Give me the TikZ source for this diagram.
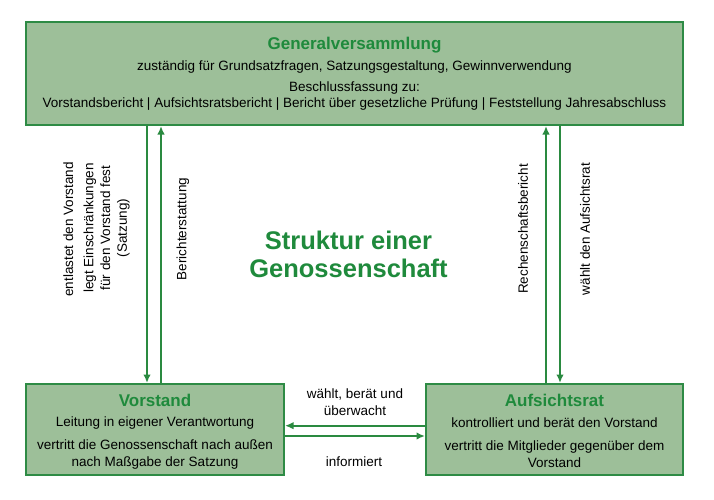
\documentclass[tikz,border=0pt]{standalone}
\usepackage{fontspec}
\setmainfont{Liberation Sans}
\usepackage{tikz}
\usetikzlibrary{arrows.meta,positioning}
\definecolor{BoxFill}{HTML}{9DBF99}
\definecolor{BoxLine}{HTML}{2E8B45}
\definecolor{TitleGreen}{HTML}{1F8A3C}
\definecolor{ArrowGreen}{HTML}{2A8A40}
\tikzset{
  orgbox/.style={draw=BoxLine,fill=BoxFill,line width=2pt,inner sep=0pt},
  boxtitle/.style={font=\fontsize{17}{19}\selectfont\bfseries,text=TitleGreen,inner sep=0pt},
  boxtext/.style={font=\fontsize{13.5}{17}\selectfont,align=center,inner sep=0pt},
  sidetext/.style={boxtext,rotate=90},
  flow/.style={ArrowGreen,line width=1.8pt,-{Latex[length=8.5pt,width=7.5pt]}}
}

\begin{document}
\begin{tikzpicture}[x=1pt,y=1pt]
  \useasboundingbox (0,0) rectangle (714,499);

  % Boxes
  \node[orgbox,minimum width=657pt,minimum height=103pt] (gv) at (354.5,425.5) {};
  \node[orgbox,minimum width=258pt,minimum height=91pt] (vs) at (155,69.5) {};
  \node[orgbox,minimum width=257pt,minimum height=91pt] (ar) at (554.5,69.5) {};

  % Generalversammlung
  \node[boxtitle] (gvtitle) at (354.5,454) {Generalversammlung};
  \node[boxtext] (gvtask) at (354.5,432) {zuständig für Grundsatzfragen, Satzungsgestaltung, Gewinnverwendung};
  \node[boxtext,font=\fontsize{13.5}{16}\selectfont] (gvres) at (354.5,402.5)
    {Beschlussfassung zu:\\Vorstandsbericht | Aufsichtsratsbericht | Bericht über gesetzliche Prüfung | Feststellung Jahresabschluss};

  % Vorstand
  \node[boxtitle] (vstitle) at (155,99) {Vorstand};
  \node[boxtext] (vslead) at (155,76) {Leitung in eigener Verantwortung};
  \node[boxtext,font=\fontsize{13.5}{17.5}\selectfont] (vsrep) at (155,44.5)
    {vertritt die Genossenschaft nach außen\\nach Maßgabe der Satzung};

  % Aufsichtsrat
  \node[boxtitle] (artitle) at (554.5,99) {Aufsichtsrat};
  \node[boxtext] (arctrl) at (554.5,76) {kontrolliert und berät den Vorstand};
  \node[boxtext] (arrep) at (554.5,44.5) {vertritt die Mitglieder gegenüber dem\\Vorstand};

  % Title
  \node[font=\fontsize{25.5}{28}\selectfont\bfseries,text=TitleGreen,align=center] (title) at (348.5,245)
    {Struktur einer\\Genossenschaft};

  % Arrows
  \draw[flow] (gv.south -| 147,0) -- (vs.north -| 147,0);
  \draw[flow] (vs.north -| 161,0) -- (gv.south -| 161,0);
  \draw[flow] (ar.north -| 546,0) -- (gv.south -| 546,0);
  \draw[flow] (gv.south -| 560,0) -- (ar.north -| 560,0);
  \draw[flow] (ar.west |- 0,73.3) -- (vs.east |- 0,73.3);
  \draw[flow] (vs.east |- 0,63) -- (ar.west |- 0,63);

  % Arrow labels
  \node[sidetext] (relieve) at (68.3,269.5) {entlastet den Vorstand};
  \node[sidetext,font=\fontsize{13.5}{16.7}\selectfont] (limits) at (106.7,271)
    {legt Einschränkungen\\für den Vorstand fest\\(Satzung)};
  \node[sidetext] (report) at (183,270) {Berichterstattung};
  \node[sidetext] (account) at (523,270) {Rechenschaftsbericht};
  \node[sidetext] (elect) at (585,270) {wählt den Aufsichtsrat};
  \node[boxtext] (advise) at (355,97) {wählt, berät und\\überwacht};
  \node[boxtext] (inform) at (354,37) {informiert};
\end{tikzpicture}
\end{document}
